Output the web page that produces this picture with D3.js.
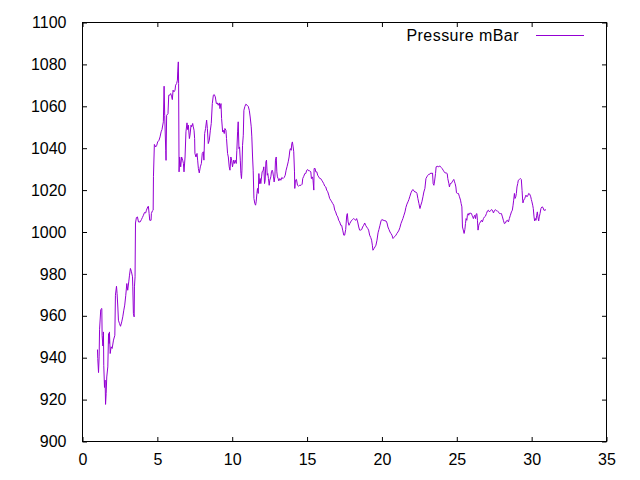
<!DOCTYPE html>
<html>
<head>
<meta charset="utf-8">
<script src="https://cdn.jsdelivr.net/npm/d3@7"></script>
<style>
    body { margin: 0; background: #fff; }
    text { font-family: "Liberation Sans", Arial, sans-serif; font-size: 16px; fill: #000; }
</style>
</head>
<body>
<svg class="pressure-plot" width="640" height="480"></svg>
<script>
// day of month for each reading
const days = [
    1.00,1.02,1.07,1.11,1.14,1.22,1.29,1.31,1.36,1.40,1.42,1.47,1.51,1.54,1.58,1.62,1.69,1.74,1.78,1.80,
    1.85,1.91,1.98,2.07,2.16,2.20,2.27,2.31,2.36,2.40,2.47,2.54,2.62,2.69,2.76,2.82,2.89,2.96,3.02,3.09,
    3.14,3.20,3.27,3.34,3.36,3.40,3.45,3.47,3.51,3.54,3.60,3.67,3.74,3.85,3.94,4.00,4.07,4.14,4.22,4.27,
    4.36,4.40,4.45,4.49,4.58,4.60,4.67,4.72,4.74,
    4.80,4.89,4.96,5.02,5.11,5.18,5.25,5.31,5.40,5.45,5.49,5.56,5.58,5.62,5.71,5.76,5.82,5.89,5.96,6.00,
    6.05,6.11,6.18,6.22,6.29,6.34,6.36,6.40,6.42,6.45,6.49,6.56,6.62,6.69,6.74,6.78,6.85,6.91,6.98,7.02,
    7.07,7.14,7.18,7.25,7.29,7.36,7.40,7.45,7.49,7.51,7.58,7.65,7.69,7.74,7.80,7.87,7.94,8.00,8.07,8.11,
    8.16,8.22,8.29,8.34,8.40,8.47,8.54,8.60,8.67,8.74,8.80,8.87,8.94,9.00,9.07,9.14,9.18,9.25,9.29,9.36,
    9.40,9.47,9.51,9.58,9.62,9.69,9.74,9.80,9.85,9.91,9.96,10.02,10.09,10.14,10.20,10.27,10.31,10.36,10.40,10.45,
    10.49,10.54,10.58,10.62,
    10.65,10.69,10.74,10.78,10.85,10.91,11.00,11.07,11.14,11.20,11.27,11.31,11.36,11.40,11.45,11.51,11.56,11.60,11.65,11.69,
    11.74,11.78,11.82,11.87,11.91,11.96,12.00,12.07,12.11,12.16,12.20,12.25,12.29,12.34,12.38,12.42,12.47,12.51,12.58,12.62,
    12.67,12.71,12.76,12.80,12.85,12.89,12.94,12.98,13.02,13.07,13.11,13.18,13.25,13.31,13.40,13.47,13.54,13.60,13.67,13.74,
    13.80,13.85,13.89,13.94,13.98,14.02,14.07,14.11,14.16,14.18,14.22,14.29,14.36,14.42,14.51,14.60,14.67,14.71,14.78,14.85,
    14.91,14.98,15.05,15.11,15.18,15.25,15.29,15.36,15.40,15.45,15.47,15.54,15.58,15.65,15.71,15.78,15.85,15.91,15.98,16.05,
    16.11,16.18,16.25,16.31,16.38,16.45,16.51,16.58,16.65,16.71,16.78,16.85,16.91,16.98,17.05,17.11,17.18,17.25,17.31,17.38,
    17.45,17.51,17.58,17.65,17.69,17.74,17.80,17.85,17.91,17.98,18.05,18.11,18.18,18.25,18.31,18.38,18.45,18.51,18.58,18.65,
    18.71,18.78,18.85,18.91,18.98,19.05,19.11,
    19.18,19.25,19.31,19.36,19.40,19.47,19.54,19.60,19.67,19.74,19.80,19.87,19.94,20.00,20.07,20.14,20.20,20.27,20.34,20.40,
    20.47,20.54,20.60,20.67,20.74,20.80,20.87,20.94,21.00,21.07,21.14,21.20,21.27,21.34,21.40,21.47,21.54,21.60,21.67,21.74,
    21.80,21.87,21.94,22.00,22.07,22.14,22.20,22.27,22.34,22.40,22.47,22.54,22.60,22.67,22.74,22.80,22.87,22.94,23.00,23.07,
    23.14,23.20,23.27,23.34,23.38,23.42,23.47,23.51,23.58,23.62,23.69,23.76,23.82,23.89,23.96,24.02,24.09,24.16,24.22,24.29,
    24.36,24.40,24.47,24.51,24.56,24.62,24.69,24.76,24.80,24.85,24.89,24.94,24.98,25.05,25.11,25.18,25.25,25.29,25.34,25.38,
    25.45,25.49,25.54,25.58,25.62,25.67,25.71,25.76,25.80,25.85,25.89,25.94,25.98,26.02,26.07,26.11,26.16,26.20,26.25,26.29,
    26.34,26.38,26.42,26.47,26.51,26.58,26.65,26.71,26.78,26.85,26.91,26.98,27.05,27.11,27.18,27.25,27.31,27.38,27.45,27.51,
    27.58,27.65,27.71,27.78,27.85,27.91,27.98,28.05,28.11,28.18,28.25,28.31,28.38,28.45,28.51,28.58,28.65,28.71,28.76,28.80,
    28.85,28.89,28.94,28.98,29.02,29.07,29.11,29.18,29.25,29.31,29.36,29.40,29.42,29.47,29.54,29.58,29.62,29.69,29.76,29.80,
    29.87,29.94,29.98,30.02,30.07,30.11,30.16,30.20,30.25,30.29,30.34,30.38,30.42,30.47,30.51,30.56,30.62,30.69,30.76,30.82,
    30.89,30.96
];

// pressure in mBar, one per day value above
const pressure = [
    943.9,939.6,932.9,940.4,953.6,963.0,963.5,950.7,945.6,952.3,936.4,925.8,929.3,917.7,922.9,930.8,935.6,951.5,946.8,952.3,
    942.0,945.2,944.4,948.4,950.7,969.8,974.1,970.6,964.2,957.9,956.3,955.0,957.1,959.5,962.7,965.1,969.8,975.4,972.2,976.2,
    979.4,982.6,981.0,978.6,973.8,961.1,959.5,973.8,978.6,1004.3,1006.9,1007.2,1004.8,1004.8,1006.0,1006.9,1008.0,1009.3,1009.1,1010.4,
    1012.0,1012.3,1008.8,1005.6,1005.6,1008.8,1010.1,1010.4,1026.6,
    1041.8,1040.6,1041.4,1043.0,1043.8,1045.4,1047.8,1048.9,1052.6,1069.6,1055.7,1039.0,1034.2,1055.7,1056.5,1065.3,1065.3,1066.1,1064.5,1063.2,
    1067.7,1066.9,1067.7,1070.1,1070.9,1072.5,1076.4,1081.2,1070.9,1028.7,1035.8,1031.1,1035.8,1034.3,1032.7,1028.7,1035.8,1047.8,1052.1,1048.9,
    1051.0,1044.6,1046.2,1051.0,1050.2,1051.8,1050.2,1048.6,1044.6,1037.5,1035.8,1037.5,1034.3,1030.3,1028.2,1031.1,1032.7,1037.5,1038.3,1034.3,
    1047.0,1049.4,1053.4,1049.4,1042.2,1043.8,1048.6,1051.8,1061.3,1065.3,1065.6,1064.5,1061.3,1061.6,1060.5,1061.6,1058.9,1061.3,1054.2,1047.8,
    1048.6,1047.0,1049.4,1048.6,1044.6,1037.5,1035.8,1031.1,1029.5,1035.8,1034.3,1031.1,1034.3,1032.7,1034.3,1032.7,1039.0,1047.8,1052.6,1039.8,
    1040.6,1034.3,1027.9,1025.5,
    1029.5,1041.4,1046.2,1058.1,1060.0,1061.0,1060.5,1060.0,1058.1,1054.9,1050.2,1045.4,1035.8,1029.5,1016.0,1013.6,1012.8,1014.4,1018.4,1020.8,
    1018.4,1027.9,1023.1,1025.5,1023.1,1026.3,1028.7,1029.5,1031.1,1023.1,1024.7,1033.5,1034.3,1027.1,1027.9,1025.5,1022.3,1024.7,1026.3,1028.7,
    1029.5,1028.7,1026.3,1023.9,1026.3,1034.3,1035.8,1028.7,1026.3,1025.5,1024.4,1025.5,1024.7,1026.0,1025.5,1026.0,1027.1,1029.5,1031.4,1033.5,
    1035.8,1039.0,1039.8,1039.0,1042.2,1043.0,1040.6,1038.3,1028.7,1020.8,1024.7,1025.1,1022.3,1021.9,1022.3,1022.3,1022.8,1025.5,1026.6,1027.9,
    1027.9,1029.5,1029.8,1029.2,1029.2,1028.7,1025.5,1026.3,1024.7,1020.0,1030.3,1030.3,1028.7,1028.7,1027.1,1026.3,1025.5,1025.5,1024.7,1023.9,
    1023.1,1021.9,1021.5,1020.0,1019.2,1017.6,1016.0,1015.2,1014.4,1013.6,1012.8,1010.4,1009.6,1008.0,1007.2,1005.6,1004.8,1003.2,1003.2,1000.9,
    998.5,998.5,1001.2,1008.0,1008.8,1004.8,1003.2,1004.0,1004.8,1005.6,1006.0,1006.4,1006.0,1005.6,1006.4,1004.8,1002.4,1000.9,1000.9,1001.2,
    1002.4,1003.2,1004.3,1003.2,1002.4,1001.7,1000.9,
    998.5,997.4,996.1,993.7,991.3,992.1,992.9,993.7,996.1,999.6,1001.2,1003.2,1005.3,1006.0,1005.6,1005.6,1005.3,1005.3,1004.3,1002.4,
    1001.2,1000.0,999.3,998.5,996.9,997.4,998.0,998.5,999.3,1000.0,1000.9,1002.1,1004.0,1005.3,1006.4,1008.0,1009.6,1011.7,1013.3,1014.4,
    1015.5,1017.1,1018.7,1019.6,1020.3,1019.6,1019.1,1019.1,1018.4,1016.0,1013.6,1011.2,1012.8,1014.4,1016.8,1019.1,1020.8,1025.5,1026.3,1027.1,
    1027.6,1027.6,1028.2,1027.9,1028.2,1023.1,1022.3,1023.9,1027.9,1031.1,1031.4,1031.1,1031.4,1031.4,1030.8,1030.3,1029.5,1028.7,1028.2,1028.2,
    1027.9,1025.5,1023.1,1021.5,1023.1,1023.1,1023.9,1024.7,1025.1,1023.9,1023.1,1021.5,1018.7,1018.4,1018.4,1016.8,1015.2,1013.6,1012.0,1002.4,
    1000.5,999.3,1001.2,1004.0,1006.4,1005.6,1008.0,1008.8,1008.0,1009.1,1008.8,1009.1,1008.8,1008.0,1007.2,1006.4,1007.5,1008.0,1006.4,1008.5,
    1008.8,1005.6,1000.9,1003.2,1004.0,1004.8,1005.6,1004.8,1006.4,1007.2,1007.5,1008.8,1010.1,1010.4,1009.6,1010.1,1010.7,1010.4,1009.1,1010.1,
    1010.7,1010.1,1010.1,1009.6,1008.8,1008.8,1008.8,1007.2,1005.6,1004.0,1004.3,1005.3,1005.6,1004.8,1006.4,1008.0,1009.6,1010.4,1012.8,1015.2,
    1018.4,1016.0,1016.8,1018.4,1021.5,1023.1,1024.7,1025.1,1025.5,1025.1,1019.9,1015.2,1013.9,1015.2,1016.0,1016.8,1017.6,1016.8,1017.6,1018.4,
    1018.1,1016.8,1015.5,1014.4,1012.8,1011.2,1007.2,1005.3,1006.4,1005.6,1008.0,1009.6,1007.2,1005.3,1007.2,1008.8,1011.2,1012.0,1011.7,1010.4,
    1010.4,1010.7
];

const xTicks = [0, 5, 10, 15, 20, 25, 30, 35];
const yTicks = [900, 920, 940, 960, 980, 1000, 1020, 1040, 1060, 1080, 1100];
const seriesName = "Pressure mBar";

const width = 640;
const height = 480;
const margin = { top: 22.5, right: 33.5, bottom: 38.5, left: 82.5 };
const tick = 4.5;
const lineColor = "#9400d3";

const svg = d3.select(".pressure-plot");

const x = d3.scaleLinear()
    .domain([0, 35])
    .range([margin.left, width - margin.right]);

const y = d3.scaleLinear()
    .domain([900, 1100])
    .range([height - margin.bottom, margin.top]);

const points = days.map((d, i) => ({ x: d, y: pressure[i] }));

// inward ticks on all four sides, labels only bottom and left
const styleAxis = g => {
    g.attr("font-family", null).attr("font-size", null);
    g.select(".domain").remove();
    g.selectAll(".tick line").attr("stroke", "#000");
    g.selectAll(".tick text").attr("fill", "#000");
};

svg.append("g")
    .attr("transform", `translate(0,${height - margin.bottom})`)
    .call(d3.axisBottom(x).tickValues(xTicks).tickSize(-tick).tickPadding(12).tickFormat(d3.format("d")))
    .call(styleAxis);

svg.append("g")
    .attr("transform", `translate(0,${margin.top})`)
    .call(d3.axisTop(x).tickValues(xTicks).tickSize(-tick).tickFormat(""))
    .call(styleAxis);

svg.append("g")
    .attr("transform", `translate(${margin.left},0)`)
    .call(d3.axisLeft(y).tickValues(yTicks).tickSize(-tick).tickPadding(16).tickFormat(d3.format("d")))
    .call(styleAxis);

svg.append("g")
    .attr("transform", `translate(${width - margin.right},0)`)
    .call(d3.axisRight(y).tickValues(yTicks).tickSize(-tick).tickFormat(""))
    .call(styleAxis);

svg.append("rect")
    .attr("x", margin.left)
    .attr("y", margin.top)
    .attr("width", width - margin.left - margin.right)
    .attr("height", height - margin.top - margin.bottom)
    .attr("fill", "none")
    .attr("stroke", "#000")
    .attr("stroke-width", 1);

const line = d3.line()
    .x(d => x(d.x))
    .y(d => y(d.y));

svg.append("path")
    .datum(points)
    .attr("fill", "none")
    .attr("stroke", lineColor)
    .attr("stroke-width", 1)
    .attr("d", line);

// key, top right, no box
const key = svg.append("g");
key.append("text")
    .attr("x", 519)
    .attr("y", 41)
    .attr("text-anchor", "end")
    .attr("letter-spacing", 0.45)
    .text(seriesName);
key.append("line")
    .attr("x1", 536)
    .attr("x2", 584)
    .attr("y1", 35.5)
    .attr("y2", 35.5)
    .attr("stroke", lineColor)
    .attr("stroke-width", 1);
</script>
</body>
</html>
